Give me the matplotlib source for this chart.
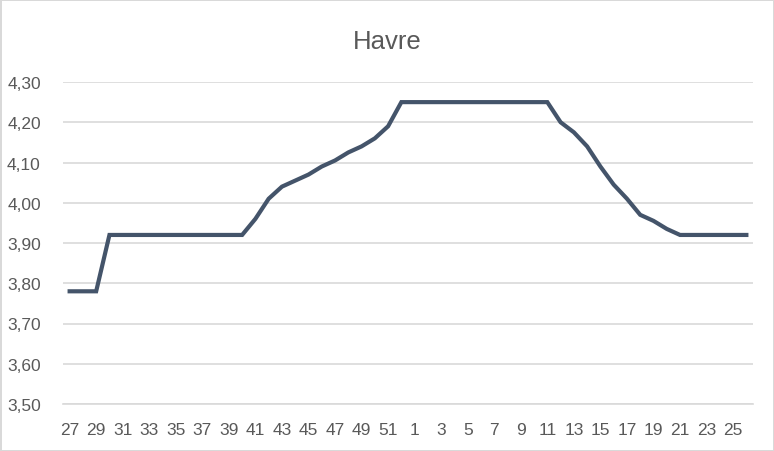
import matplotlib.pyplot as plt
import numpy as np

# week numbers (season starts week 27)
weeks = list(range(27, 53)) + list(range(1, 27))
prices = [
    3.78, 3.78, 3.78, 3.92, 3.92, 3.92, 3.92, 3.92, 3.92, 3.92,   # 27-36
    3.92, 3.92, 3.92, 3.92, 3.96, 4.01, 4.04, 4.055, 4.07, 4.09,  # 37-46
    4.105, 4.125, 4.14, 4.16, 4.19, 4.25,                         # 47-52
    4.25, 4.25, 4.25, 4.25, 4.25, 4.25, 4.25, 4.25, 4.25, 4.25,   # 1-10
    4.25, 4.20, 4.175, 4.14, 4.09, 4.045, 4.01, 3.97, 3.955, 3.935,  # 11-20
    3.92, 3.92, 3.92, 3.92, 3.92, 3.92,                           # 21-26
]
title = "Havre"
yticks = [3.50, 3.60, 3.70, 3.80, 3.90, 4.00, 4.10, 4.20, 4.30]

plt.rcParams['font.family'] = ['Liberation Sans Narrow', 'Liberation Sans', 'DejaVu Sans']

fig = plt.figure(figsize=(7.74, 4.52), dpi=100)
fig.patch.set_edgecolor('#D9D9D9')
fig.patch.set_linewidth(2)
ax = fig.add_axes([63 / 774, 1 - 405 / 452, 690 / 774, 322 / 452])

x = np.arange(len(weeks))
ax.plot(x, prices, color='#44546A', lw=3, solid_joinstyle='miter', zorder=3)

ax.set_xlim(-0.5, len(weeks) - 0.5)
ax.set_ylim(3.5, 4.3)
ax.set_yticks(yticks)
ax.set_yticklabels([f"{v:.2f}".replace('.', ',') for v in yticks])
ax.set_xticks(x[::2])
ax.set_xticklabels([str(w) for w in weeks[::2]])
ax.grid(axis='y', color='#D9D9D9', lw=1.2)
ax.set_axisbelow(True)
for s in ['top', 'right', 'left']:
    ax.spines[s].set_visible(False)
ax.spines['bottom'].set_color('#D9D9D9')
ax.spines['bottom'].set_linewidth(1.2)
ax.tick_params(length=0, labelsize=12.5, colors='#595959')
ax.tick_params(axis='x', pad=13)
ax.tick_params(axis='y', pad=16)

fig.text(0.5, 1 - 42 / 452, title, ha='center', va='center', fontsize=18.5, color='#595959')

fig.savefig('out.png', dpi=100, edgecolor=fig.get_edgecolor())
